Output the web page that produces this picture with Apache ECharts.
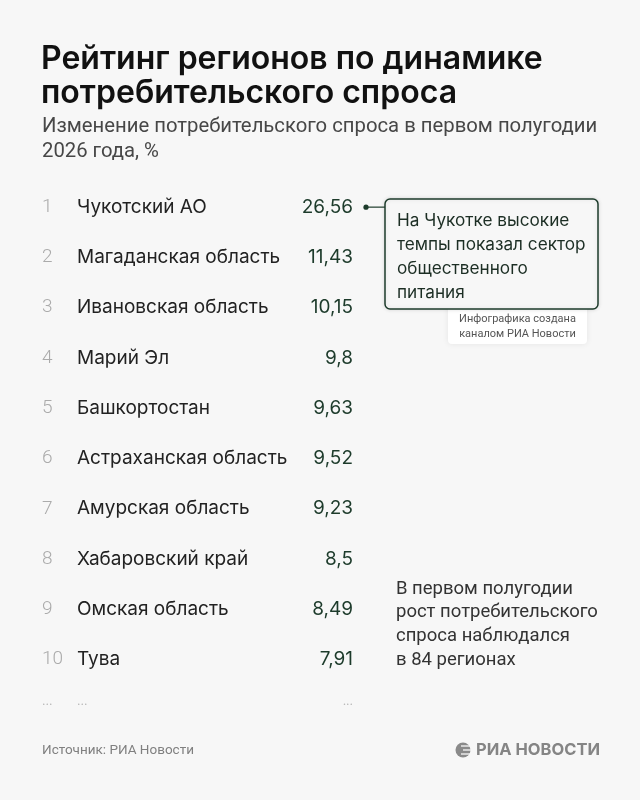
<!DOCTYPE html>
<html>
<head>
<meta charset="utf-8">
<script src="https://cdn.jsdelivr.net/npm/echarts@6/dist/echarts.min.js"></script>
<style>
html,body{margin:0;padding:0;background:#f7f7f7;}
#c{width:640px;height:800px;}
</style>
</head>
<body>
<div id="c"></div>
<script>
// ---- data ----
const ranks = ['1','2','3','4','5','6','7','8','9','10','...'];
const regions = ['Чукотский АО','Магаданская область','Ивановская область','Марий Эл','Башкортостан','Астраханская область','Амурская область','Хабаровский край','Омская область','Тува','...'];
const values = [26.56, 11.43, 10.15, 9.8, 9.63, 9.52, 9.23, 8.5, 8.49, 7.91];
const valueLabels = values.map(v => String(v).replace('.', ',')).concat(['...']);

const titleText = 'Рейтинг регионов по динамике\nпотребительского спроса';
const subtitleText = 'Изменение потребительского спроса в первом полугодии\n2026 года, %';
const calloutText = 'На Чукотке высокие\nтемпы показал сектор\nобщественного\nпитания';
const noteText = 'Инфографика создана\nканалом РИА Новости';
const sideText = 'В первом полугодии\nрост потребительского\nспроса наблюдался\nв 84 регионах';
const sourceText = 'Источник: РИА Новости';
const logoText = 'РИА НОВОСТИ';

const GREEN = '#1d3b2b';
const FONT = 'Inter, "Noto Sans", sans-serif';
const NARROW = 'Roboto, "Liberation Sans", sans-serif';

const chart = echarts.init(document.getElementById('c'), null, {renderer: 'canvas'});

const option = {
  backgroundColor: '#f7f7f7',
  animation: false,
  title: [
    {text: titleText, left: 41, top: 42, padding: 0,
     textStyle: {fontFamily: FONT, fontSize: 32, fontWeight: 600, color: '#111', lineHeight: 34}},
    {text: subtitleText, left: 42, top: 114, padding: 0,
     textStyle: {fontFamily: NARROW, fontSize: 20.3, fontWeight: 'normal', color: '#474747', lineHeight: 25}},
    {text: sourceText, left: 42, top: 744, padding: 0,
     textStyle: {fontFamily: NARROW, fontSize: 13.5, fontWeight: 'normal', color: '#808080'}}
  ],
  grid: {left: 42, right: 287, top: 182, height: 553},
  xAxis: {type: 'value', show: false, min: 0, max: 1},
  yAxis: [
    {
      type: 'category', data: regions, inverse: true, position: 'left',
      axisLine: {show: false}, axisTick: {show: false}, splitLine: {show: false},
      axisLabel: {
        inside: true, margin: 0, interval: 0, align: 'left',
        formatter: (v, i) => i === ranks.length - 1
          ? '{dr|' + ranks[i] + '}{dn|' + v + '}'
          : '{r|' + ranks[i] + '}{n|' + v + '}',
        rich: {
          r: {width: 35, fontFamily: NARROW, fontSize: 19, fontWeight: 300, color: '#ababab'},
          n: {fontFamily: FONT, fontSize: 19, color: '#222'},
          dr: {width: 35, fontFamily: FONT, fontSize: 12, color: '#b5b5b5', padding: [0,0,17,0]},
          dn: {fontFamily: FONT, fontSize: 12, color: '#b5b5b5', padding: [0,0,17,0]}
        }
      }
    },
    {
      type: 'category', data: valueLabels, inverse: true, position: 'right',
      axisLine: {show: false}, axisTick: {show: false}, splitLine: {show: false},
      axisLabel: {
        inside: true, margin: 0, interval: 0,
        formatter: (v, i) => i === valueLabels.length - 1 ? '{d|' + v + '}' : '{v|' + v + '}',
        rich: {
          v: {fontFamily: FONT, fontSize: 19, color: GREEN},
          d: {fontFamily: FONT, fontSize: 12, color: '#b5b5b5', padding: [0,0,17,0]}
        }
      }
    }
  ],
  series: []
};
chart.setOption(option);

// annotation anchored on the first row via the axis scale
const y0 = chart.convertToPixel({yAxisIndex: 0}, regions[0]);
const gridRight = 640 - 287;

chart.setOption({
  graphic: [
    // note box (behind)
    {type: 'rect', shape: {x: 448, y: 304, width: 139, height: 40, r: 4},
     style: {fill: '#ffffff', shadowBlur: 6, shadowColor: 'rgba(0,0,0,0.08)'}, z: 10},
    {type: 'text', x: 517.5, y: 327, z: 11,
     style: {text: noteText, fontFamily: NARROW, fontSize: 11, fill: '#555', align: 'center', verticalAlign: 'middle', lineHeight: 15}},
    // callout box
    {type: 'rect', shape: {x: 385, y: 199, width: 213, height: 110, r: 5},
     style: {fill: '#f7f7f7', stroke: GREEN, lineWidth: 1.5, shadowBlur: 4, shadowColor: 'rgba(0,0,0,0.12)'}, z: 12},
    {type: 'text', x: 397, y: 209, z: 13,
     style: {text: calloutText, fontFamily: FONT, fontSize: 17.2, fill: '#1c2e24', lineHeight: 24}},
    // connector
    {type: 'line', shape: {x1: gridRight + 13, y1: y0, x2: 385, y2: y0},
     style: {stroke: GREEN, lineWidth: 1.2}, z: 12},
    {type: 'circle', shape: {cx: gridRight + 13, cy: y0, r: 2.6},
     style: {fill: GREEN}, z: 13},
    // side note
    {type: 'text', x: 396, y: 577, z: 10,
     style: {text: sideText, fontFamily: NARROW, fontSize: 18.5, fill: '#333', lineHeight: 23.8}},
    // logo
    {type: 'circle', shape: {cx: 463, cy: 750, r: 7.5}, style: {fill: '#8a8a8a'}, z: 10},
    {type: 'line', shape: {x1: 461, y1: 746, x2: 471, y2: 746}, style: {stroke: '#f7f7f7', lineWidth: 1.3}, z: 11},
    {type: 'line', shape: {x1: 463, y1: 750, x2: 471, y2: 750}, style: {stroke: '#f7f7f7', lineWidth: 1.3}, z: 11},
    {type: 'line', shape: {x1: 461, y1: 754, x2: 471, y2: 754}, style: {stroke: '#f7f7f7', lineWidth: 1.3}, z: 11},
    {type: 'text', x: 600, y: 750, z: 10,
     style: {text: logoText, fontFamily: FONT, fontSize: 16.5, fontWeight: 'bold', fill: '#858585', align: 'right', verticalAlign: 'middle'}}
  ]
});
</script>
</body>
</html>
